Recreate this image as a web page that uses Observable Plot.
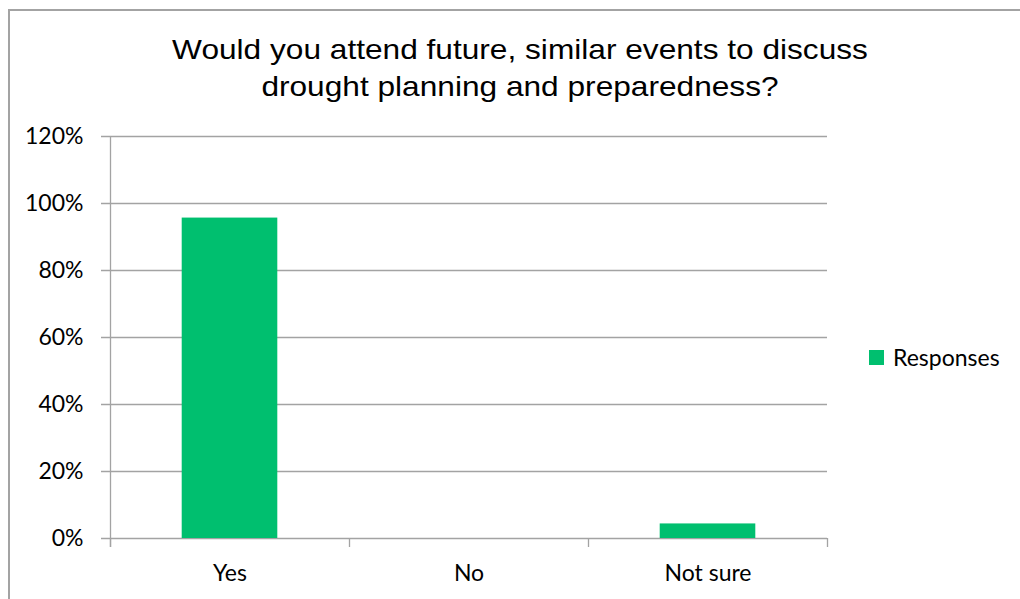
<!DOCTYPE html>
<html>
<head>
<meta charset="utf-8">
<script src="https://cdn.jsdelivr.net/npm/d3@7"></script>
<script src="https://cdn.jsdelivr.net/npm/@observablehq/plot@0.6"></script>
<style>
  html, body { margin: 0; padding: 0; background: #fff; }
  #wrap { position: relative; width: 1020px; height: 599px; overflow: hidden; background: #fff; }
  #frame { position: absolute; left: 8px; top: 9px; width: 1100px; height: 700px; border-left: 2px solid #a3a3a3; border-top: 2px solid #a3a3a3; box-sizing: border-box; }
  #title { position: absolute; left: 520px; top: 31px; transform: translateX(-50%) scale(1.13, 1); white-space: nowrap; text-align: center;
           font-family: "Liberation Sans", Arial, sans-serif; font-size: 28px; line-height: 37px; color: #000; }
  #legend { position: absolute; left: 869px; top: 343px; display: flex; align-items: center; font-family: Lato, "Open Sans", sans-serif; font-size: 23px; color: #000; }
  #legend .sw { width: 15px; height: 15px; background: #00bf6f; margin-right: 9px; }
  #chart { position: absolute; left: 0; top: 0; }
</style>
</head>
<body>
<div id="wrap">
  <div id="frame"></div>
  <div id="chart"></div>
  <div id="title">Would you attend future, similar events to discuss<br>drought planning and preparedness?</div>
  <div id="legend"><div class="sw"></div><span>Responses</span></div>
</div>
<script>
const categories = ["Yes", "No", "Not sure"];
const responses = [95.65, 0, 4.35];
const yTicks = [0, 20, 40, 60, 80, 100, 120];
const seriesName = "Responses";

const barColor = "#00bf6f";
const gridColor = "#a3a3a3";

const data = categories.map((c, i) => ({category: c, index: i, value: responses[i]}));
const boundaries = d3.range(categories.length + 1);
const centers = categories.map((_, i) => i + 0.5);

const chart = Plot.plot({
  width: 1020,
  height: 599,
  marginTop: 136,
  marginBottom: 61,
  marginLeft: 110,
  marginRight: 193,
  style: {fontFamily: "Lato, 'Open Sans', sans-serif", fontSize: "23px", color: "#000", background: "transparent"},
  x: {domain: [0, categories.length], label: null},
  y: {domain: [0, 120], label: null},
  marks: [
    Plot.ruleY(yTicks, {stroke: gridColor, strokeWidth: 1.3, insetLeft: -9}),
    Plot.rectY(data, {x1: d => d.index + 0.3, x2: d => d.index + 0.7, y1: 0, y2: "value", fill: barColor}),
    Plot.ruleX([0], {stroke: gridColor, strokeWidth: 1.3, insetBottom: -9}),
    Plot.ruleX(boundaries, {y1: 0, y2: 0, stroke: gridColor, strokeWidth: 1.3, insetBottom: -9}),
    Plot.axisY({ticks: yTicks, tickSize: 0, tickPadding: 27, tickFormat: d => d + "%", fill: "#000", fontSize: 23, label: null}),
    Plot.axisX({ticks: centers, tickSize: 0, tickPadding: 26, tickFormat: d => categories[Math.floor(d)], fill: "#000", fontSize: 23, label: null})
  ]
});
document.getElementById("chart").appendChild(chart);
</script>
</body>
</html>
